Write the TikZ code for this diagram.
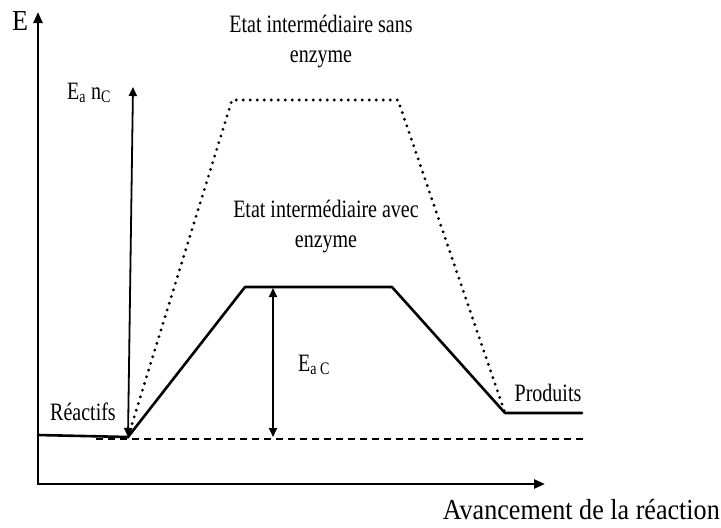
\documentclass[tikz,border=0pt]{standalone}
\usepackage{fontspec}
\setmainfont{Liberation Serif}[FakeStretch=0.9]
\newfontfamily\etroit{Liberation Serif}[FakeStretch=0.8]
\usetikzlibrary{arrows.meta}
\tikzset{
	lbl/.style={inner sep=0pt, align=center, font=\etroit\fontsize{25}{28}\selectfont},
	grand/.style={inner sep=0pt, align=center, font=\fontsize{29}{32}\selectfont},
	courbe/.style={line width=2.6pt, line join=round},
	fleche/.style={line width=1.8pt, {Triangle[length=9pt,width=8pt]}-{Triangle[length=9pt,width=8pt]}}
}
\begin{document}
\begin{tikzpicture}[x=1pt, y=-1pt, line cap=round]
		\useasboundingbox (0,0) rectangle (721,528);
		\coordinate (O) at (38,484);
		\coordinate (R) at (128,437);
		\coordinate (A1) at (245,287);
		\coordinate (A2) at (392,287);
		\coordinate (P) at (505,413);
		\coordinate (S1) at (232,100);
		\coordinate (S2) at (398,100);
		% axes
		\draw[line width=2.4pt, -{Triangle[length=11pt,width=9pt]}] (O) -- (38,12) coordinate (Ey);
		\draw[line width=2.4pt, -{Triangle[length=11pt,width=9pt]}] (O) -- (545,484) coordinate (Ex);
		\node[grand] (E) at (20,21) {E};
		\node[grand, anchor=north east] (av) at (720,499) {Avancement de la réaction};
		% niveau des reactifs
		\draw[line width=1.3pt, dash pattern=on 7pt off 5pt, line cap=butt] (96,439) -- (587,439);
		% sans enzyme
		\draw[line width=3.2pt, dash pattern=on 0pt off 7pt] (R) -- (S1) -- (S2) -- (P);
		% avec enzyme
		\draw[courbe] (38,435) -- (R) -- (A1) -- (A2) -- (P) -- (582,413) coordinate (Pend);
		% energies d'activation
		\draw[fleche] (R) -- (133,87) coordinate (Ta);
		\draw[fleche] (273,437) coordinate (Cb) -- (273,288) coordinate (Ct);
		\node[lbl] (eanc) at (89,93) {E\textsubscript{a} n\textsubscript{C}};
		\node[lbl] (eac) at (314,365) {E\textsubscript{a C}};
		\node[lbl] (reac) at (83,412) {Réactifs};
		\node[lbl] (prod) at (548,393) {Produits};
		\node[lbl] (sans) at (321,42) {Etat intermédiaire sans\\[2pt] enzyme};
		\node[lbl] (avec) at (326,227) {Etat intermédiaire avec\\[2pt] enzyme};
	\end{tikzpicture}
\end{document}
